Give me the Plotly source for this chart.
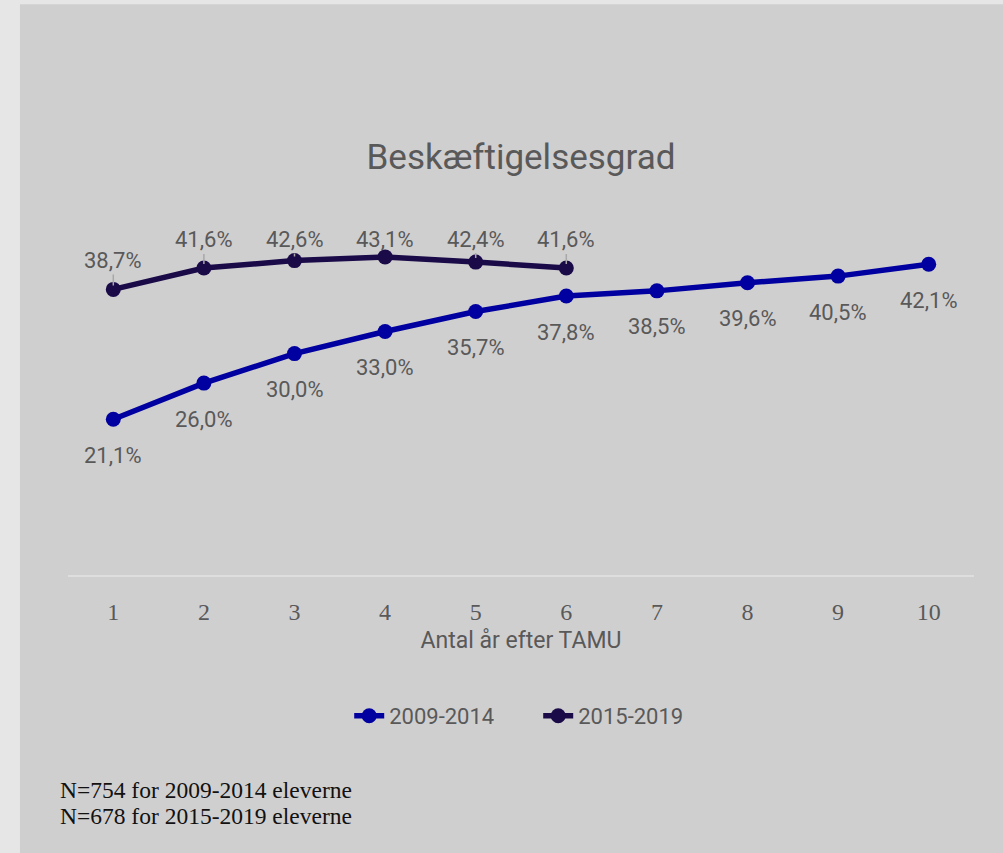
import plotly.graph_objects as go

# Data
years = ['1', '2', '3', '4', '5', '6', '7', '8', '9', '10']
rate0914 = [21.1, 26.0, 30.0, 33.0, 35.7, 37.8, 38.5, 39.6, 40.5, 42.1]
rate1519 = [38.7, 41.6, 42.6, 43.1, 42.4, 41.6]
seriesNames = ['2009-2014', '2015-2019']
footnotes = ['N=754 for 2009-2014 eleverne', 'N=678 for 2015-2019 eleverne']

# Colours / fonts
blueColour = '#0000a0'
purpleColour = '#1a0a48'
textColour = '#595959'
panelColour = '#d0cfd0'
outerColour = '#e6e6e6'
narrowFont = 'Roboto, Liberation Sans, sans-serif'
serifFont = 'Liberation Serif, Times New Roman, serif'

# label offsets (px) for the 2015-2019 labels, placed by hand like in the original
purpleOffsets = [-29, -28, -21, -17, -23, -28]


def pct(v):
    return f'{v:.1f}'.replace('.', ',') + '%'


fig = go.Figure()
fig.add_trace(go.Scatter(x=years, y=rate0914, name=seriesNames[0], mode='lines+markers',
                         line=dict(color=blueColour, width=5.5), marker=dict(size=15, color=blueColour)))
fig.add_trace(go.Scatter(x=years[:len(rate1519)], y=rate1519, name=seriesNames[1], mode='lines+markers',
                         line=dict(color=purpleColour, width=5.5), marker=dict(size=15, color=purpleColour)))

# data labels (category index used as x position)
for i, yv in enumerate(rate0914):
    fig.add_annotation(x=i, y=yv, text=pct(yv), showarrow=False, yshift=-36,
                       font=dict(family=narrowFont, size=22, color=textColour))
for i, (yv, off) in enumerate(zip(rate1519, purpleOffsets)):
    fig.add_annotation(x=i, y=yv, text=pct(yv), showarrow=True, ax=0, ay=off, arrowhead=0,
                       arrowwidth=1.5, arrowcolor='#a8a8a8', standoff=4,
                       font=dict(family=narrowFont, size=22, color=textColour))

# footnotes
for i, note in enumerate(footnotes):
    fig.add_annotation(xref='paper', yref='paper', x=-0.011, y=-0.583 - i * 0.0705, text=note,
                       showarrow=False, xanchor='left', yanchor='middle',
                       font=dict(family=serifFont, size=23.5, color='#111111'))

# inner grey panel
fig.add_shape(type='rect', xref='paper', yref='paper', x0=-0.053, x1=1.04, y0=-0.76, y1=1.547,
              fillcolor=panelColour, line=dict(width=0), layer='below')

fig.update_xaxes(type='category', showgrid=False, showline=True, linecolor='#dedede', linewidth=2,
                 ticks='', ticklabelstandoff=14, tickfont=dict(family=serifFont, size=24, color=textColour),
                 title=dict(text='Antal år efter TAMU', standoff=8,
                            font=dict(family=narrowFont, size=23, color=textColour)),
                 range=[-0.5, 9.5], fixedrange=True)
fig.update_yaxes(range=[0, 50], showgrid=False, showticklabels=False, zeroline=False, visible=False)

fig.update_layout(width=1003, height=853, paper_bgcolor=outerColour, plot_bgcolor=panelColour,
                  margin=dict(l=68, r=29, t=206, b=278),
                  title=dict(text='Beskæftigelsesgrad', x=0.5, xref='paper', xanchor='center',
                             y=1 - 157 / 853, yanchor='middle',
                             font=dict(family=narrowFont, size=35, color=textColour)),
                  showlegend=True,
                  legend=dict(orientation='h', x=0.519, xanchor='center', y=-0.382, yanchor='middle',
                              font=dict(family=narrowFont, size=22, color=textColour),
                              entrywidth=144, bgcolor='rgba(0,0,0,0)'),
                  font=dict(family=narrowFont, color=textColour))

fig.write_html('out.html', config={'displayModeBar': False},
               post_script="document.body.style.margin='0';")
